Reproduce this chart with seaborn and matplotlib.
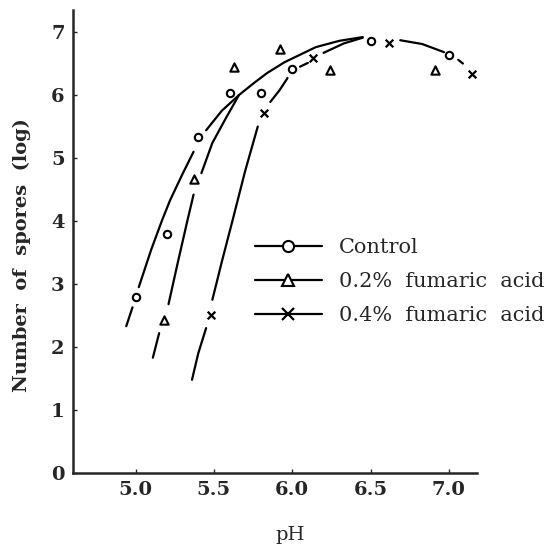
import matplotlib
matplotlib.use('Agg')
import matplotlib.pyplot as plt
from matplotlib.lines import Line2D
import numpy as np
import pandas as pd
import seaborn as sns

# measured points (pH, log spore number)
ph_control = [5.0, 5.2, 5.4, 5.6, 5.8, 6.0, 6.5, 7.0]
sp_control = [2.79, 3.80, 5.33, 6.03, 6.04, 6.41, 6.86, 6.64]
ph_fum02 = [5.18, 5.37, 5.63, 5.92, 6.24, 6.91]
sp_fum02 = [2.43, 4.66, 6.45, 6.73, 6.39, 6.40]
ph_fum04 = [5.48, 5.82, 6.13, 6.62, 7.15]
sp_fum04 = [2.51, 5.71, 6.59, 6.82, 6.34]

# hand drawn curves (broken into segments)
curve_control = [
    ([4.94, 4.98], [2.33, 2.63]),
    ([5.02, 5.10, 5.17, 5.22, 5.30, 5.37], [2.95, 3.55, 4.02, 4.33, 4.75, 5.10]),
    ([5.45, 5.55, 5.66, 5.75, 5.84, 5.95, 6.05, 6.15, 6.30, 6.45],
     [5.44, 5.75, 6.00, 6.18, 6.35, 6.52, 6.64, 6.76, 6.86, 6.92]),
    ([6.69, 6.83, 6.97], [6.87, 6.81, 6.68]),
]
curve_fum02 = [
    ([5.11, 5.15], [1.83, 2.22]),
    ([5.21, 5.27, 5.33, 5.37], [2.68, 3.35, 4.00, 4.42]),
    ([5.42, 5.49, 5.58, 5.66], [4.76, 5.24, 5.65, 6.00]),
]
curve_fum04 = [
    ([5.36, 5.40, 5.45], [1.48, 1.90, 2.30]),
    ([5.49, 5.55, 5.62, 5.70, 5.78], [2.75, 3.35, 4.02, 4.80, 5.50]),
    ([5.86, 5.92, 5.97], [5.89, 6.08, 6.27]),
    ([6.05, 6.10], [6.45, 6.51]),
    ([6.20, 6.33, 6.45], [6.67, 6.82, 6.91]),
    ([7.06, 7.09], [6.56, 6.50]),
]

labels = ['Control', '0.2%  fumaric  acid', '0.4%  fumaric  acid']

rows = []
k = 0
for curve in [curve_control, curve_fum02, curve_fum04]:
    for xs, ys in curve:
        for a, b in zip(xs, ys):
            rows.append({'ph': a, 'sp': b, 'seg': k})
        k += 1
curves = pd.DataFrame(rows)

sns.set_style('ticks')
plt.rcParams['font.family'] = ['DejaVu Serif']

fig = plt.figure(figsize=(5.58, 5.50), dpi=100)
ax = fig.add_axes([73/558, 1 - 473/550, 404/558, 463/550])

sns.lineplot(data=curves, x='ph', y='sp', units='seg', estimator=None, sort=False,
             color='black', lw=1.6, ax=ax)

sns.scatterplot(x=ph_control, y=sp_control, marker='o', s=28, facecolor='white',
                edgecolor='black', linewidth=1.5, zorder=3, ax=ax)
sns.scatterplot(x=ph_fum02, y=sp_fum02, marker='^', s=36, facecolor='white',
                edgecolor='black', linewidth=1.5, zorder=3, ax=ax)
sns.scatterplot(x=ph_fum04, y=sp_fum04, marker='x', s=30, color='black',
                linewidth=1.6, zorder=3, ax=ax)

ax.set_xlim(4.60, 7.18)
ax.set_ylim(0, 7.35)
ax.set_xticks([5.0, 5.5, 6.0, 6.5, 7.0])
ax.set_xticklabels(['5.0', '5.5', '6.0', '6.5', '7.0'])
ax.set_yticks(range(8))
ax.tick_params(direction='in', length=3, width=1, labelsize=14, pad=6)
for t in ax.get_xticklabels() + ax.get_yticklabels():
    t.set_fontweight('bold')
for s in ['top', 'right']:
    ax.spines[s].set_visible(False)
for s in ['left', 'bottom']:
    ax.spines[s].set_linewidth(1.8)

ax.set_xlabel('pH', fontsize=14)
ax.xaxis.set_label_coords(0.537, -0.115)
ax.set_ylabel('Number  of  spores  (log)', fontsize=14, fontweight='bold')
ax.yaxis.set_label_coords(-0.104, 0.47)

handles = [
    Line2D([], [], color='black', lw=1.6, marker='o', ms=8, mfc='white', mec='black', mew=1.5),
    Line2D([], [], color='black', lw=1.6, marker='^', ms=9, mfc='white', mec='black', mew=1.5),
    Line2D([], [], color='black', lw=1.6, marker='x', ms=8, mec='black', mew=1.6),
]
ax.legend(handles, labels, loc='upper left', bbox_to_anchor=(255/558, 1 - 238/550),
          bbox_transform=fig.transFigure, frameon=False, fontsize=15,
          handlelength=3.2, handletextpad=0.85, labelspacing=0.72,
          borderpad=0, borderaxespad=0)

fig.savefig('out.png', dpi=100)
